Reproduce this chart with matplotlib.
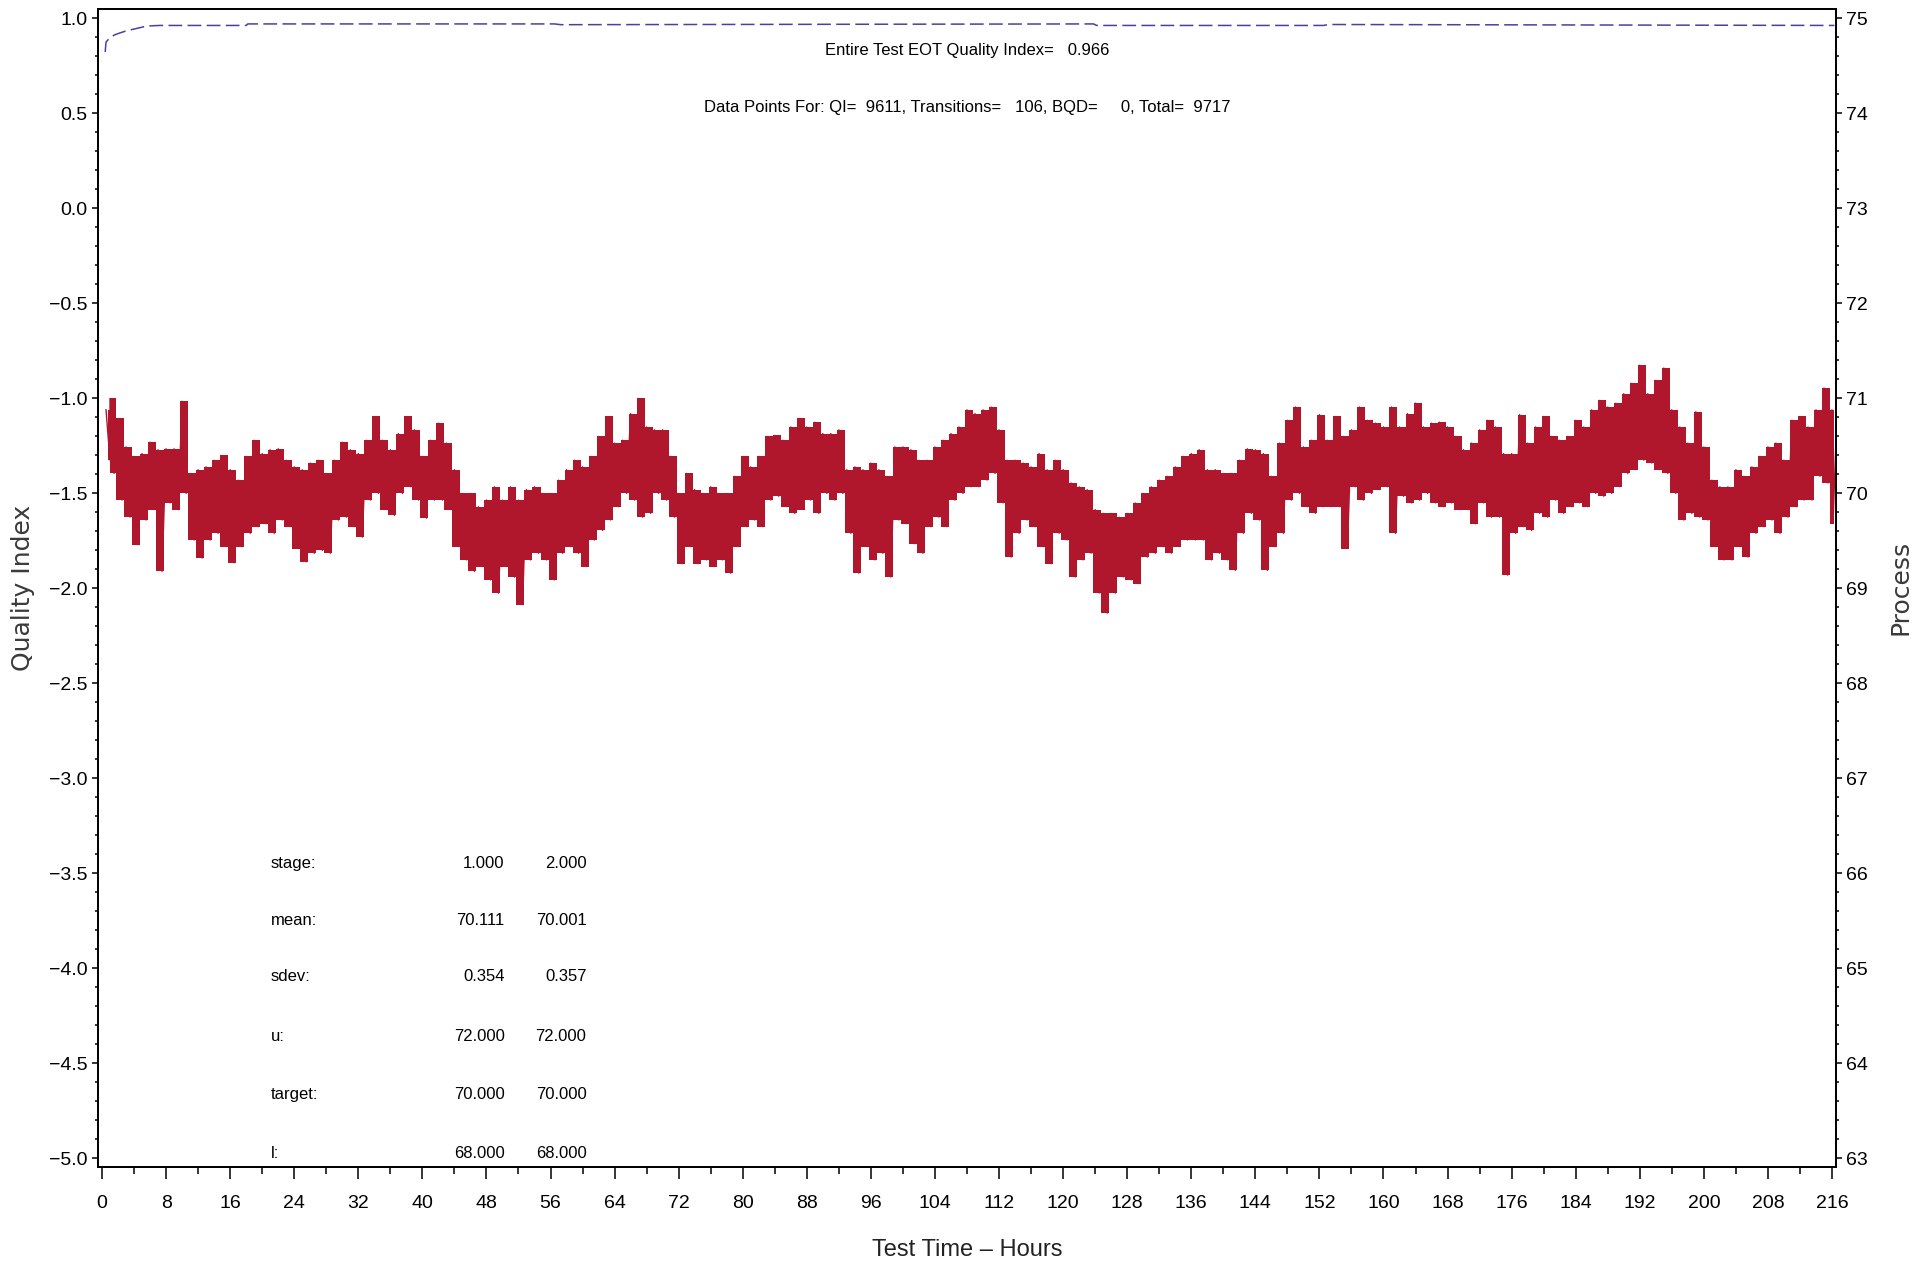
import numpy as np
import matplotlib
matplotlib.use("Agg")
import matplotlib.pyplot as plt
import matplotlib.font_manager as fm
from matplotlib.ticker import MultipleLocator, FuncFormatter

# narrow-ish font, close to the SAS plotting font
names = {f.name for f in fm.fontManager.ttflist}
narrow = "DejaVu Sans"
for cand in ["Liberation Sans Narrow", "Liberation Sans", "Arimo"]:
    if cand in names:
        narrow = cand
        break

# Quality index (left axis), cumulative over the test
qi_hours = [0.4, 0.5, 0.7, 1.0, 1.5, 2.2, 3.0, 3.9, 4.8, 5.6, 7.2, 18.0, 18.2, 56.5, 57.3, 123.8, 124.2, 152.5, 153.2, 216.3]
qi_values = [0.823, 0.875, 0.885, 0.897, 0.912, 0.923, 0.934, 0.943, 0.952, 0.960, 0.963, 0.963, 0.971, 0.971, 0.967, 0.971, 0.963, 0.963, 0.968, 0.963]

# Process (right axis): upper / lower extent of the trace per hour
proc_hours = np.concatenate([[0.5], np.arange(1, 217)])
proc_hi = [70.88, 71.00, 70.79, 70.49, 70.39, 70.42, 70.54, 70.46, 70.47, 70.47,
           70.97, 70.21, 70.25, 70.28, 70.35, 70.40, 70.25, 70.14, 70.39, 70.56,
           70.42, 70.46, 70.47, 70.35, 70.28, 70.25, 70.32, 70.35, 70.21, 70.35,
           70.54, 70.46, 70.42, 70.56, 70.81, 70.56, 70.46, 70.63, 70.81, 70.67,
           70.39, 70.56, 70.74, 70.53, 70.25, 70.00, 70.00, 69.86, 69.93, 70.07,
           69.93, 70.07, 69.93, 70.04, 70.07, 70.00, 70.00, 70.14, 70.25, 70.35,
           70.28, 70.39, 70.60, 70.81, 70.53, 70.56, 70.84, 71.00, 70.70, 70.67,
           70.67, 70.39, 70.00, 70.21, 70.04, 70.00, 70.07, 70.00, 70.00, 70.18,
           70.39, 70.28, 70.39, 70.60, 70.61, 70.56, 70.70, 70.79, 70.70, 70.75,
           70.63, 70.63, 70.67, 70.25, 70.28, 70.25, 70.32, 70.25, 70.18, 70.49,
           70.49, 70.46, 70.35, 70.35, 70.49, 70.56, 70.63, 70.70, 70.88, 70.84,
           70.88, 70.91, 70.67, 70.35, 70.35, 70.32, 70.28, 70.42, 70.25, 70.35,
           70.25, 70.11, 70.07, 70.04, 69.83, 69.79, 69.79, 69.75, 69.79, 69.90,
           70.00, 70.07, 70.14, 70.18, 70.28, 70.39, 70.42, 70.46, 70.25, 70.25,
           70.21, 70.21, 70.35, 70.47, 70.46, 70.42, 70.18, 70.53, 70.77, 70.91,
           70.49, 70.56, 70.83, 70.56, 70.81, 70.60, 70.67, 70.91, 70.77, 70.74,
           70.70, 70.91, 70.70, 70.84, 70.95, 70.70, 70.74, 70.75, 70.70, 70.60,
           70.46, 70.53, 70.67, 70.77, 70.70, 70.42, 70.42, 70.83, 70.53, 70.70,
           70.81, 70.60, 70.56, 70.60, 70.77, 70.70, 70.88, 70.98, 70.91, 70.95,
           71.05, 71.16, 71.35, 71.05, 71.19, 71.32, 70.88, 70.70, 70.53, 70.86,
           70.49, 70.14, 70.07, 70.07, 70.25, 70.18, 70.28, 70.39, 70.49, 70.53,
           70.35, 70.77, 70.81, 70.70, 70.88, 71.11, 70.88]
proc_lo = [70.35, 70.21, 69.93, 69.75, 69.46, 69.72, 69.83, 69.18, 69.90, 69.83,
           70.00, 69.51, 69.32, 69.51, 69.58, 69.44, 69.27, 69.44, 69.58, 69.65,
           69.68, 69.58, 69.72, 69.65, 69.42, 69.28, 69.37, 69.40, 69.37, 69.72,
           69.75, 69.65, 69.54, 69.93, 70.00, 69.83, 69.77, 70.00, 70.07, 69.93,
           69.74, 69.93, 69.93, 69.83, 69.44, 69.30, 69.18, 69.23, 69.09, 68.95,
           69.23, 69.12, 68.83, 69.30, 69.37, 69.30, 69.09, 69.37, 69.44, 69.37,
           69.23, 69.51, 69.61, 69.72, 69.86, 70.00, 69.93, 69.75, 69.79, 70.00,
           69.93, 69.75, 69.26, 69.44, 69.26, 69.30, 69.23, 69.30, 69.16, 69.44,
           69.65, 69.72, 69.65, 69.93, 69.97, 69.86, 69.79, 69.83, 69.93, 69.79,
           70.00, 69.93, 70.00, 69.58, 69.16, 69.44, 69.30, 69.37, 69.12, 69.72,
           69.68, 69.47, 69.37, 69.65, 69.75, 69.65, 69.93, 70.00, 70.07, 70.07,
           70.14, 70.21, 69.90, 69.33, 69.58, 69.72, 69.65, 69.44, 69.26, 69.58,
           69.51, 69.12, 69.30, 69.37, 68.95, 68.74, 68.95, 69.12, 69.09, 69.05,
           69.33, 69.37, 69.44, 69.37, 69.44, 69.51, 69.51, 69.51, 69.30, 69.37,
           69.30, 69.19, 69.58, 69.79, 69.72, 69.19, 69.44, 69.58, 69.93, 70.00,
           69.86, 69.79, 69.86, 69.86, 69.86, 69.42, 70.07, 69.93, 70.00, 70.04,
           70.07, 69.58, 69.97, 69.90, 69.93, 70.00, 69.90, 69.86, 69.90, 69.83,
           69.83, 69.68, 69.90, 69.75, 69.75, 69.14, 69.58, 69.65, 69.61, 69.79,
           69.75, 69.93, 69.79, 69.86, 69.90, 69.86, 70.00, 69.97, 70.00, 70.07,
           70.21, 70.25, 70.35, 70.32, 70.25, 70.21, 70.00, 69.72, 69.79, 69.75,
           69.72, 69.44, 69.30, 69.30, 69.44, 69.33, 69.58, 69.65, 69.72, 69.58,
           69.75, 69.86, 69.93, 69.93, 70.18, 70.11, 69.68]

# Stage statistics table
stat_labels = ["stage:", "mean:", "sdev:", "u:", "target:", "l:"]
stage1 = [1.000, 70.111, 0.354, 72.000, 70.000, 68.000]
stage2 = [2.000, 70.001, 0.357, 72.000, 70.000, 68.000]

eot_qi = 0.966
n_qi, n_trans, n_bqd, n_total = 9611, 106, 0, 9717

red = "#b0172d"

fig = plt.figure(figsize=(19.23, 12.74), dpi=100)
ax = fig.add_axes([0.05096, 0.0840, 0.9038, 0.9093])
ax2 = ax.twinx()

# blue quality index line
ax.plot(qi_hours, qi_values, color="#4343a3", linewidth=1.1, dashes=(9, 3.5))

# red process trace: hourly hi/lo band plus a thin zigzag to roughen the edge
ax2.fill_between(proc_hours + 0.25, proc_lo, proc_hi, step="mid", color=red, linewidth=0)
zx = np.column_stack([proc_hours, proc_hours + 0.5]).ravel()
zy = np.column_stack([proc_hi, proc_lo]).ravel()
ax2.plot(zx, zy, color=red, linewidth=1.0, solid_joinstyle="round")

ax.set_xlim(-0.5, 216.5)
ax.set_ylim(-5.045, 1.052)
ax2.set_ylim(62.91, 75.104)

ax.xaxis.set_major_locator(MultipleLocator(8))
ax.xaxis.set_minor_locator(MultipleLocator(4))
ax.yaxis.set_major_locator(MultipleLocator(0.5))
ax.yaxis.set_minor_locator(MultipleLocator(0.1))
ax.yaxis.set_major_formatter(FuncFormatter(lambda v, p: f"{v:.1f}".replace("-", "\u2212")))
ax2.yaxis.set_major_locator(MultipleLocator(1))
ax2.yaxis.set_minor_locator(MultipleLocator(0.2))

ax.tick_params(axis="x", which="major", direction="out", length=8.5, width=1.1, pad=12, labelsize=14)
ax.tick_params(axis="x", which="minor", direction="out", length=5, width=1.1)
ax.tick_params(axis="y", which="major", direction="out", length=4.5, width=1.1, pad=3, labelsize=14)
ax.tick_params(axis="y", which="minor", direction="out", length=2.3, width=1.1)
ax2.tick_params(axis="y", which="major", direction="out", length=4.5, width=1.1, pad=3, labelsize=14)
ax2.tick_params(axis="y", which="minor", direction="out", length=2.3, width=1.1)
for a in (ax, ax2):
    for lab in a.get_xticklabels() + a.get_yticklabels():
        lab.set_fontfamily(narrow)
    for sp in a.spines.values():
        sp.set_linewidth(1.3)

ax.set_xlabel("Test Time \u2013 Hours", fontsize=17, fontfamily=narrow, color="#222222")
ax.xaxis.set_label_coords(0.5, -0.062)
ax.set_ylabel("Quality Index", fontsize=18, color="#3a3a3a")
ax.yaxis.set_label_coords(-0.036, 0.5)
ax2.set_ylabel("Process", fontsize=18, color="#3a3a3a")
ax2.yaxis.set_label_coords(1.030, 0.5)

ax.text(0.5, 0.964, f"Entire Test EOT Quality Index=   {eot_qi:.3f}", transform=ax.transAxes,
        ha="center", va="center", fontsize=12, fontfamily=narrow)
ax.text(0.5, 0.915, f"Data Points For: QI=  {n_qi}, Transitions=   {n_trans}, BQD=     {n_bqd}, Total=  {n_total}",
        transform=ax.transAxes, ha="center", va="center", fontsize=12, fontfamily=narrow)

row_y = [0.262, 0.213, 0.164, 0.113, 0.063, 0.012]
for lab, v1, v2, yy in zip(stat_labels, stage1, stage2, row_y):
    ax.text(0.0995, yy, lab, transform=ax.transAxes, ha="left", va="center", fontsize=12, fontfamily=narrow)
    ax.text(0.234, yy, f"{v1:.3f}", transform=ax.transAxes, ha="right", va="center", fontsize=12, fontfamily=narrow)
    ax.text(0.281, yy, f"{v2:.3f}", transform=ax.transAxes, ha="right", va="center", fontsize=12, fontfamily=narrow)

fig.savefig("out.png", dpi=100)
plt.close(fig)
